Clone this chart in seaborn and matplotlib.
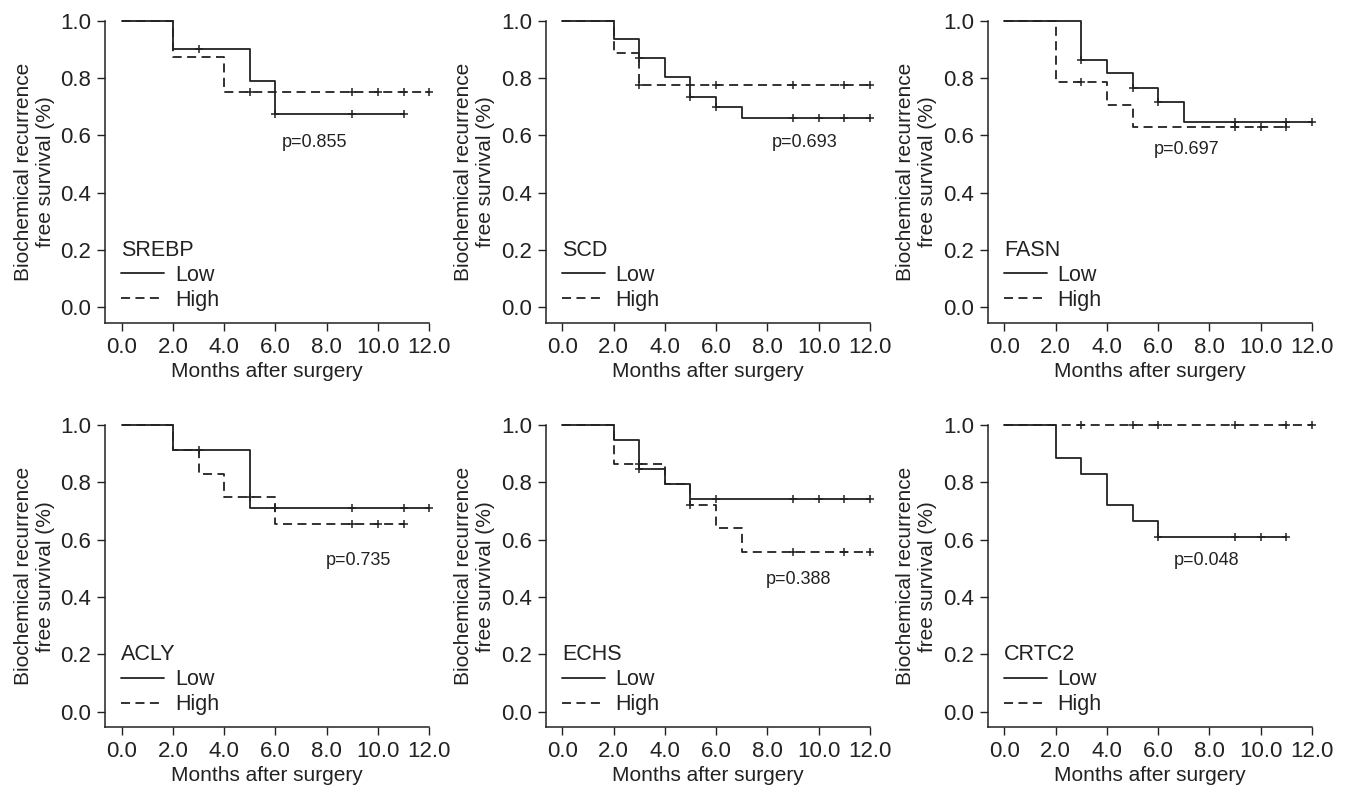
import numpy as np
import pandas as pd
import seaborn as sns
import matplotlib.pyplot as plt
from matplotlib.lines import Line2D

genes = ["SREBP", "SCD", "FASN", "ACLY", "ECHS", "CRTC2"]
p_labels = ["p=0.855", "p=0.693", "p=0.697", "p=0.735", "p=0.388", "p=0.048"]

# step times / survival for the Low group
low_times = [
    [0, 2, 5, 6, 11],
    [0, 2, 3, 4, 5, 6, 7, 12],
    [0, 3, 4, 5, 6, 7, 12],
    [0, 2, 5, 12],
    [0, 2, 3, 4, 5, 12],
    [0, 2, 3, 4, 5, 6, 11],
]
low_surv = [
    [1.0, 0.900, 0.788, 0.675, 0.675],
    [1.0, 0.935, 0.869, 0.802, 0.735, 0.700, 0.660, 0.660],
    [1.0, 0.863, 0.816, 0.766, 0.717, 0.645, 0.645],
    [1.0, 0.915, 0.711, 0.711],
    [1.0, 0.949, 0.848, 0.793, 0.742, 0.742],
    [1.0, 0.886, 0.831, 0.720, 0.664, 0.610, 0.610],
]
low_censor = [
    [3, 6, 9, 11],
    [3, 5, 6, 9, 10, 11, 12],
    [3, 5, 6, 9, 11, 12],
    [3, 6, 9, 11, 12],
    [3, 6, 9, 10, 11, 12],
    [6, 9, 10, 11],
]

# step times / survival for the High group
high_times = [
    [0, 2, 4, 12],
    [0, 2, 3, 12],
    [0, 2, 4, 5, 11],
    [0, 2, 3, 4, 6, 11],
    [0, 2, 4, 5, 6, 7, 12],
    [0, 12],
]
high_surv = [
    [1.0, 0.875, 0.750, 0.750],
    [1.0, 0.888, 0.777, 0.777],
    [1.0, 0.787, 0.707, 0.629, 0.629],
    [1.0, 0.915, 0.831, 0.749, 0.655, 0.655],
    [1.0, 0.865, 0.793, 0.720, 0.642, 0.557, 0.557],
    [1.0, 1.0],
]
high_censor = [
    [5, 9, 10, 11, 12],
    [3, 6, 9, 11, 12],
    [3, 9, 10, 11],
    [5, 9, 10, 11],
    [3, 5, 9, 11, 12],
    [3, 5, 6, 9, 11, 12],
]

# where the p-value text sits (data coords)
p_pos = [(6.25, 0.574), (8.18, 0.574), (5.82, 0.549), (7.98, 0.529), (7.95, 0.462), (6.6, 0.526)]

sns.set_style("ticks")
plt.rcParams['font.family'] = ['Liberation Sans', 'DejaVu Sans']
plt.rcParams['font.size'] = 15

ink = "#222222"
dash = (0, (5, 3))

fig = plt.figure(figsize=(13.46, 7.91), dpi=100)
lefts = [0.0780, 0.4054, 0.7338]
bottoms = [0.5920, 0.0807]
w, h = 0.2409, 0.3818


def step_value(times, surv, t):
    idx = np.searchsorted(times, t, side='right') - 1
    return surv[idx]


for i, gene in enumerate(genes):
    ax = fig.add_axes([lefts[i % 3], bottoms[i // 3], w, h])

    groups = [
        (low_times[i], low_surv[i], low_censor[i], '-'),
        (high_times[i], high_surv[i], high_censor[i], dash),
    ]
    for times, surv, cens, ls in groups:
        df = pd.DataFrame({'t': times, 's': surv})
        sns.lineplot(data=df, x='t', y='s', ax=ax, drawstyle='steps-post',
                     estimator=None, color=ink, lw=1.3, ls=ls, clip_on=False)
        cdf = pd.DataFrame({'t': cens, 's': [step_value(times, surv, c) for c in cens]})
        sns.scatterplot(data=cdf, x='t', y='s', ax=ax, marker='+', color=ink,
                        s=36, linewidth=1.1, clip_on=False, zorder=3)

    ax.text(p_pos[i][0], p_pos[i][1], p_labels[i], fontsize=13, color=ink,
            ha='left', va='center')

    handles = [Line2D([], [], color=ink, lw=1.3, ls='-'),
               Line2D([], [], color=ink, lw=1.3, ls=dash)]
    leg = ax.legend(handles, ["Low", "High"], title=gene, loc='lower left',
                    bbox_to_anchor=(0.05, 0.04), frameon=False, fontsize=15.5,
                    title_fontsize=15.5, handlelength=2.0, handletextpad=0.5,
                    labelspacing=0.18, borderpad=0, borderaxespad=0,
                    alignment='left')
    for t in leg.get_texts():
        t.set_color(ink)
    leg.get_title().set_color(ink)

    ax.set_xlim(-0.65, 12)
    ax.set_ylim(-0.054, 1.0)
    ax.set_xticks(np.arange(0, 13, 2))
    ax.set_xticklabels([f"{v:.1f}" for v in np.arange(0, 13, 2)])
    ax.set_yticks(np.arange(0, 1.01, 0.2))
    ax.set_yticklabels([f"{v:.1f}" for v in np.arange(0, 1.01, 0.2)])
    ax.tick_params(direction='out', length=6, width=1, colors=ink, labelsize=16, pad=4)
    for side in ['left', 'bottom']:
        ax.spines[side].set_linewidth(1.1)
        ax.spines[side].set_color(ink)
    sns.despine(ax=ax)
    ax.set_xlabel("Months after surgery", color=ink, labelpad=3)
    ax.set_ylabel("Biochemical recurrence\nfree survival (%)", color=ink,
                  labelpad=4, linespacing=1.2)

fig.savefig("out.png", dpi=100)
